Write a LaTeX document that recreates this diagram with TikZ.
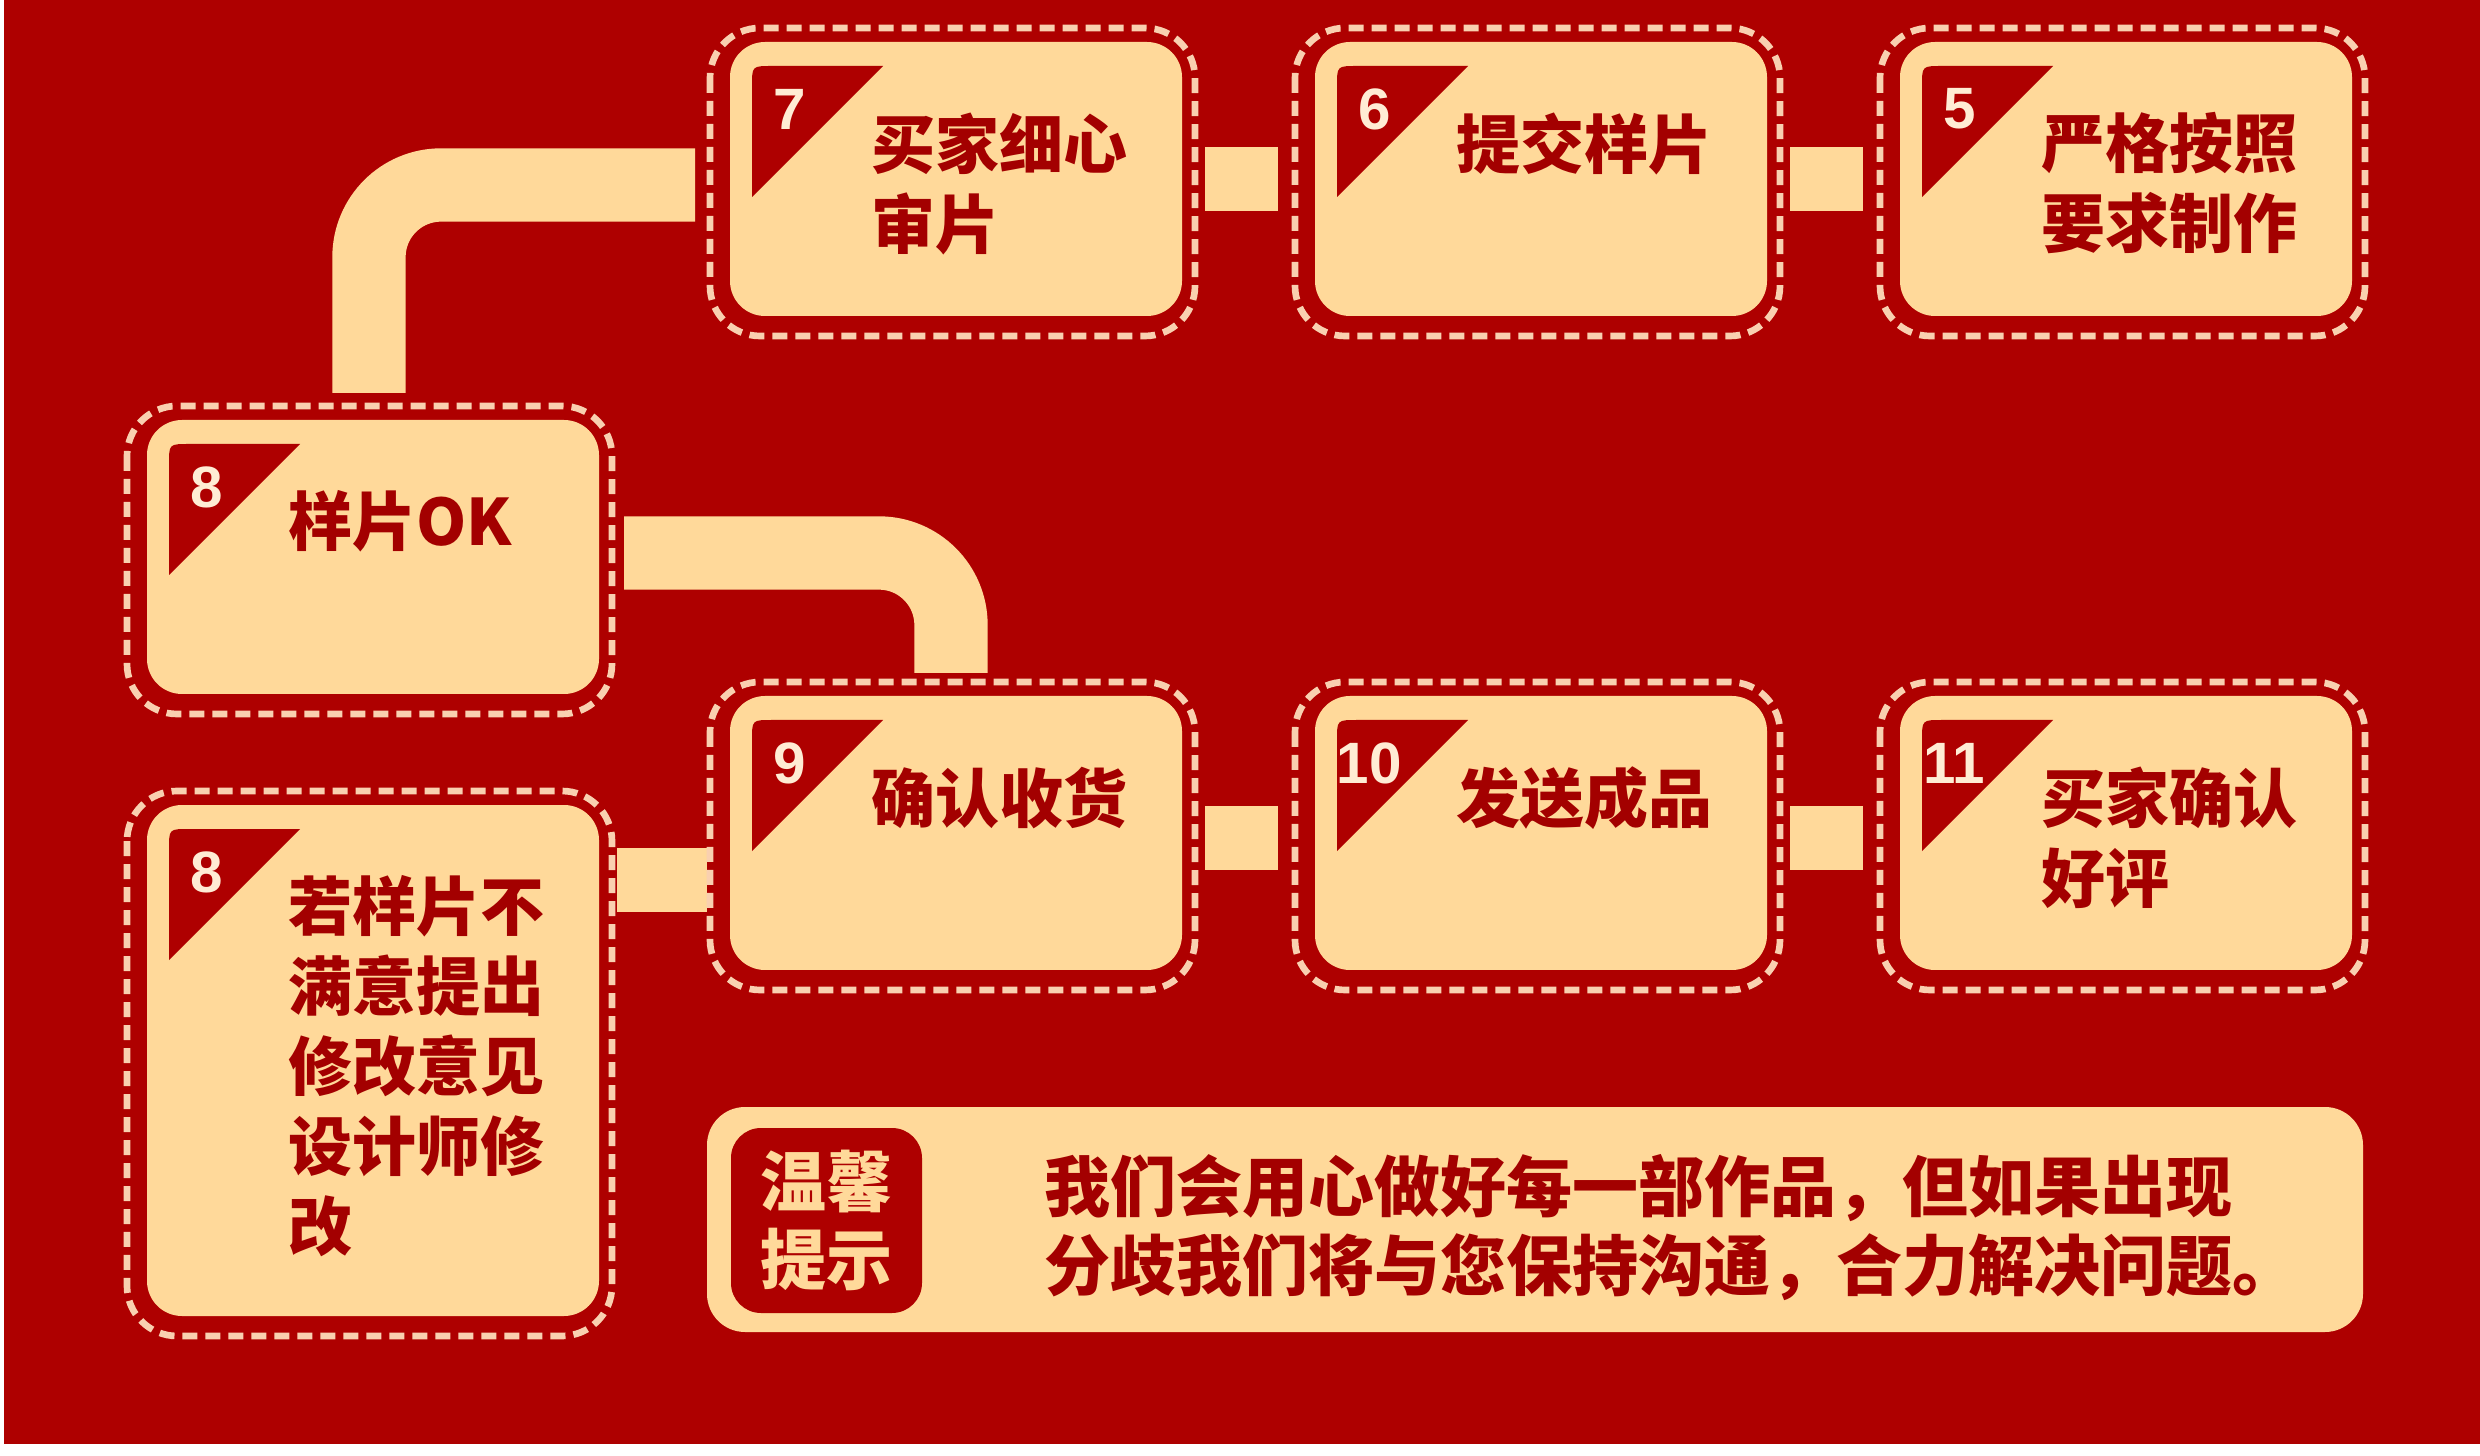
\documentclass[tikz,border=0pt]{standalone}
\usepackage{fontspec}
\usetikzlibrary{calc}
\newfontfamily\cjk{Noto Sans CJK SC}
\newfontfamily\numfont{Liberation Sans}
\definecolor{bgred}{HTML}{AE0000}
\definecolor{cream}{HTML}{FFD99A}
\definecolor{ringcol}{HTML}{F9D0B0}
\definecolor{txtred}{HTML}{A30000}
\definecolor{numcol}{HTML}{FFECD4}
\tikzset{
  stepbox/.style={fill=cream, rounded corners=10.5pt, minimum width=135.6pt, minimum height=82.2pt, inner sep=0pt, outer sep=0pt},
  ring/.style={draw=ringcol, line width=2pt, dash pattern=on 4.5pt off 2.4pt, rounded corners=15pt},
  numlbl/.style={text=numcol, font=\numfont\bfseries\fontsize{17.5pt}{17.5pt}\selectfont, inner sep=0pt},
  steptext/.style={text=txtred, font=\cjk\bfseries\fontsize{19.2pt}{24pt}\selectfont, align=left, anchor=north west, inner sep=0pt},
  link/.style={draw=cream, line width=19.2pt},
  elbow/.style={draw=cream, line width=22pt, rounded corners=21.6pt},
  tipbox/.style={fill=cream, rounded corners=11.4pt, minimum width=496.8pt, minimum height=67.5pt, inner sep=0pt},
  tiplabel/.style={fill=bgred, rounded corners=9pt, minimum width=57.3pt, minimum height=55.5pt, inner sep=0pt, text=cream, align=center, font=\cjk\bfseries\fontsize{19.8pt}{23.4pt}\selectfont},
  tiptext/.style={text=txtred, align=left, inner sep=0pt, font=\cjk\bfseries\fontsize{19.8pt}{23.7pt}\selectfont}
}
% name, (unused), (unused), number, number x-offset, text
\newcommand\stepcard[6]{%
  \draw[ring] ([shift={(-20,-14)}]#1.north west) rectangle ([shift={(13,20)}]#1.south east);
  \fill[bgred] ([shift={(22,44)}]#1.north west) -- ([shift={(22,155)}]#1.north west)
     -- ([shift={(153,24)}]#1.north west) -- ([shift={(42,24)}]#1.north west)
     .. controls ([shift={(22,24)}]#1.north west) and ([shift={(22,24)}]#1.north west) .. ([shift={(22,44)}]#1.north west) -- cycle;
  \node[numlbl] (#1n) at ([shift={(#5,67)}]#1.north west) {#4};
  \node[steptext] (#1t) at ([shift={(141,70)}]#1.north west) {#6};
}
\begin{document}
\begin{tikzpicture}[x=0.3pt,y=-0.3pt]
\useasboundingbox (0,0) rectangle (2480,1456);
\fill[white] (0,0) rectangle (2480,1456);
\fill[bgred] (4,0) rectangle (2480,1444);

% step boxes
\node[stepbox] (b7) at (956,179) {};
\node[stepbox] (b6) at (1541,179) {};
\node[stepbox] (b5) at (2126,179) {};
\node[stepbox] (b8a) at (373,557) {};
\node[stepbox] (b9) at (956,833) {};
\node[stepbox] (b10) at (1541,833) {};
\node[stepbox] (b11) at (2126,833) {};
\node[stepbox, minimum height=153.3pt] (b8b) at (373,1060.5) {};

% connectors
\draw[link] ([shift={(23,0)}]b7.east) -- ([shift={(-37,0)}]b6.west);
\draw[link] ([shift={(23,0)}]b6.east) -- ([shift={(-37,0)}]b5.west);
\draw[link] ([shift={(23,5)}]b9.east) -- ([shift={(-37,5)}]b10.west);
\draw[link] ([shift={(23,5)}]b10.east) -- ([shift={(-37,5)}]b11.west);
\draw[link] ($(b8b.east |- b9.west)+(18,47)$) -- ([shift={(-23,47)}]b9.west);
\draw[elbow] ([shift={(-35,6)}]b7.west) -| ([shift={(-4,-27)}]b8a.north);
\draw[elbow] ([shift={(25,-4)}]b8a.east) -| ([shift={(-5,-23)}]b9.north);

% decorations and texts
\stepcard{b7}{}{}{7}{60}{买家细心\\审片}
\stepcard{b6}{}{}{6}{60}{提交样片}
\stepcard{b5}{}{}{5}{60}{严格按照\\要求制作}
\stepcard{b8a}{}{}{8}{60}{样片OK}
\stepcard{b9}{}{}{9}{60}{确认收货}
\stepcard{b10}{}{}{10}{54}{发送成品}
\stepcard{b11}{}{}{11}{54}{买家确认\\好评}
\stepcard{b8b}{}{}{8}{60}{若样片不\\满意提出\\修改意见\\设计师修\\改}

% tip box
\node[tipbox] (tip) at (1535,1219.5) {};
\node[tiplabel] (tipl) at (826.5,1220.5) {温馨\\提示};
\node[tiptext, anchor=west] (tipt) at ([shift={(337,8)}]tip.west) {我们会用心做好每一部作品，但如果出现\\分歧我们将与您保持沟通，合力解决问题。};
\end{tikzpicture}
\end{document}
